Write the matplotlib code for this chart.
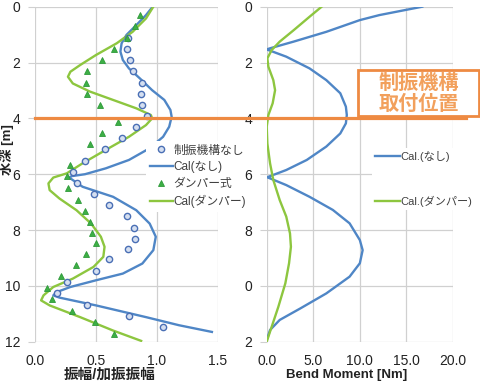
import matplotlib
matplotlib.use("Agg")
import matplotlib.pyplot as plt
from matplotlib.patches import Rectangle

plt.rcParams['font.family'] = ['Liberation Sans', 'Noto Sans CJK JP', 'DejaVu Sans']

# ---------------- data ----------------
# measured: no damper (circles)
meas_none_x = [0.76, 0.75, 0.78, 0.80, 0.88, 0.87, 0.88, 0.92, 0.83, 0.71, 0.57, 0.41, 0.31,
               0.345, 0.48, 0.61, 0.75, 0.81, 0.82, 0.76, 0.61, 0.50, 0.26, 0.18, 0.43, 0.77, 1.05]
meas_none_y = [1.11, 1.52, 1.91, 2.30, 2.72, 3.14, 3.52, 3.92, 4.32, 4.72, 5.11, 5.52, 5.91,
               6.31, 6.72, 7.10, 7.51, 7.91, 8.31, 8.67, 9.05, 9.47, 9.87, 10.27, 10.68, 11.08, 11.49]
# measured: damper (triangles)
meas_damp_x = [0.86, 0.82, 0.75, 0.65, 0.55, 0.43, 0.42, 0.43, 0.53, 0.68, 0.55, 0.45, 0.29,
               0.26, 0.27, 0.35, 0.41, 0.45, 0.47, 0.50, 0.42, 0.34, 0.21, 0.10, 0.14, 0.30, 0.49, 0.65]
meas_damp_y = [0.30, 0.69, 1.11, 1.52, 1.91, 2.30, 2.72, 3.14, 3.52, 4.12, 4.51, 4.92, 5.67,
               6.07, 6.51, 6.91, 7.31, 7.71, 8.10, 8.47, 8.85, 9.26, 9.66, 10.07, 10.47, 10.90, 11.29, 11.71]
# calculated amplitude: no damper
cal_none_x = [0.965, 0.91, 0.83, 0.75, 0.71, 0.70, 0.72, 0.77, 0.86, 0.96, 1.06, 1.11, 1.12, 1.10,
              1.05, 0.94, 0.77, 0.58, 0.41, 0.30, 0.28, 0.39, 0.64, 0.83, 0.94, 0.99, 0.97, 0.88,
              0.72, 0.50, 0.29, 0.18, 0.15, 0.20, 0.50, 0.91, 1.18, 1.45]
cal_none_y = [0.00, 0.30, 0.66, 1.01, 1.31, 1.61, 1.91, 2.21, 2.57, 2.99, 3.34, 3.70, 3.94, 4.30,
              4.66, 5.07, 5.49, 5.79, 6.00, 6.07, 6.12, 6.45, 6.81, 7.29, 7.77, 8.24, 8.72, 9.20,
              9.56, 9.80, 10.04, 10.22, 10.34, 10.42, 10.70, 11.12, 11.41, 11.65]
# calculated amplitude: damper
cal_damp_x = [0.97, 0.91, 0.80, 0.67, 0.50, 0.37, 0.29, 0.27, 0.31, 0.45, 0.64, 0.83, 0.95, 0.96,
              0.91, 0.77, 0.58, 0.39, 0.26, 0.15, 0.11, 0.12, 0.20, 0.34, 0.46, 0.54, 0.57, 0.56,
              0.48, 0.31, 0.15, 0.07, 0.05, 0.12, 0.37, 0.64, 0.87]
cal_damp_y = [0.00, 0.42, 0.90, 1.31, 1.73, 2.09, 2.33, 2.51, 2.75, 3.04, 3.34, 3.64, 3.88, 4.00,
              4.24, 4.66, 5.13, 5.61, 5.97, 6.12, 6.33, 6.57, 6.87, 7.29, 7.77, 8.24, 8.60, 8.96,
              9.32, 9.74, 10.04, 10.34, 10.52, 10.70, 11.12, 11.60, 11.97]
# bending moment
bm_none_x = [16.7, 12.1, 10.0, 6.4, 2.9, 0.36, 0.0, 2.1, 4.6, 6.4, 7.9, 8.5, 8.6, 8.5, 7.9, 6.4,
             4.3, 2.1, 0.2, 0.07, 2.1, 4.6, 7.1, 8.9, 10.0, 10.3, 10.0, 8.9, 6.4, 3.6, 1.4, 0.36, 0.0]
bm_none_y = [0.00, 0.30, 0.48, 0.90, 1.25, 1.49, 1.53, 1.79, 2.21, 2.63, 3.10, 3.58, 3.88, 4.18,
             4.54, 5.01, 5.49, 5.85, 6.09, 6.11, 6.39, 6.81, 7.28, 7.76, 8.36, 8.72, 9.19, 9.67,
             10.27, 10.81, 11.22, 11.58, 11.94]
bm_damp_x = [5.9, 4.6, 2.9, 1.4, 0.54, 0.07, 0.18, 0.71, 0.9, 0.64, 0.18, 0.0, 0.07, 0.36, 0.71,
             1.4, 2.1, 2.5, 2.6, 2.4, 2.0, 1.25, 0.54, 0.0]
bm_damp_y = [0.00, 0.36, 0.84, 1.25, 1.55, 1.85, 2.15, 2.63, 2.99, 3.46, 3.88, 4.30, 4.90, 5.61,
             6.21, 6.93, 7.52, 8.12, 8.60, 9.19, 9.91, 10.75, 11.46, 12.00]

depth_ticks = [0, 2, 4, 6, 8, 10, 12]
left_ylabels = ['0', '2', '4', '6', '8', '10', '12']
right_ylabels = ['0', '2', '4', '6', '8', '0', '2']
amp_ticks = [0.0, 0.5, 1.0, 1.5]
bm_ticks = [0.0, 5.0, 10.0, 15.0, 20.0]
damper_depth = 4.0

# ---------------- style ----------------
W, H = 481, 387
BLUE = '#4F86C6'
GREEN = '#8DC63F'
TRI = '#3DAF45'
ORANGE = '#EE8A42'
ORANGE_T = '#F2A05C'
GRID = '#D0D0D0'

fig = plt.figure(figsize=(W / 100, H / 100), dpi=100)

def fx(px):
    return px / W

def fy(py):
    return 1 - py / H

top, bot = 6.7, 341.7
ax1 = fig.add_axes([fx(35), fy(bot), (218 - 35) / W, (bot - top) / H])
ax2 = fig.add_axes([fx(266.7), fy(bot), (453 - 266.7) / W, (bot - top) / H])

for ax in (ax1, ax2):
    for s in ax.spines.values():
        s.set_visible(False)
    ax.set_ylim(12, 0)
    ax.set_yticks(depth_ticks)
    ax.grid(True, color=GRID, lw=0.9)
    ax.set_axisbelow(True)
    ax.tick_params(axis='y', length=5, color=GRID, pad=5.5, labelsize=10, labelcolor='#222222')
    ax.tick_params(axis='x', length=0, pad=9, labelsize=10, labelcolor='#222222')

ax1.set_xlim(0, 1.5)
ax1.set_xticks(amp_ticks)
ax1.set_xticklabels([f'{v:.1f}' for v in amp_ticks])
ax1.set_yticklabels(left_ylabels)

ax2.set_xlim(0, 20)
ax2.set_xticks(bm_ticks)
ax2.set_xticklabels([f'{v:.1f}' for v in bm_ticks])
ax2.set_yticklabels(right_ylabels)

# left chart
ax1.plot(meas_none_x, meas_none_y, 'o', ms=4.5, mfc='#D5DFF0', mec='#4A6FB5', mew=1.0,
         label='制振機構なし', zorder=4)
ax1.plot(cal_none_x, cal_none_y, '-', color=BLUE, lw=1.7, label='Cal(なし)', zorder=3)
ax1.plot(meas_damp_x, meas_damp_y, '^', ms=5, mfc=TRI, mec='#2E9A3A', mew=0.6,
         label='ダンパー式', zorder=4)
ax1.plot(cal_damp_x, cal_damp_y, '-', color=GREEN, lw=1.7, label='Cal(ダンパー)', zorder=3)

leg1 = ax1.legend(loc='upper left', bbox_to_anchor=(fx(146), fy(141)), bbox_transform=fig.transFigure,
                  fontsize=8.5, frameon=True, facecolor='white', edgecolor='none', framealpha=1,
                  fancybox=False, borderpad=0.3, borderaxespad=0, labelspacing=0.4,
                  handlelength=1.95, handletextpad=0.1, labelcolor='#404040')

# right chart
ax2.plot(bm_none_x, bm_none_y, '-', color=BLUE, lw=1.7, label='Cal.(なし)')
ax2.plot(bm_damp_x, bm_damp_y, '-', color=GREEN, lw=1.7, label='Cal.(ダンパー)')
leg2 = ax2.legend(loc='upper left', bbox_to_anchor=(fx(372), fy(148)), bbox_transform=fig.transFigure,
                  fontsize=8, frameon=True, facecolor='white', edgecolor='none', framealpha=1,
                  fancybox=False, borderpad=0.3, borderaxespad=0, labelspacing=3.0,
                  handlelength=2.2, handletextpad=0.05, labelcolor='#404040')

# damper position line (spans both charts)
x0 = (35 - 266.7) / (453 - 266.7)
x1 = (466 - 266.7) / (453 - 266.7)
ax2.axhline(damper_depth, xmin=x0, xmax=x1, color=ORANGE, lw=2.3, clip_on=False, zorder=6)

# annotation box
rect = Rectangle((fx(358), fy(116)), (479 - 358) / W, (116 - 70) / H, transform=fig.transFigure,
                 facecolor='white', edgecolor=ORANGE, lw=2.0, zorder=5)
fig.add_artist(rect)
fig.text(fx(419), fy(82), '制振機構', ha='center', va='center', fontsize=14.5,
         fontweight='bold', color=ORANGE_T, family=['Noto Sans CJK JP'], zorder=6)
fig.text(fx(419), fy(103), '取付位置', ha='center', va='center', fontsize=14.5,
         fontweight='bold', color=ORANGE_T, family=['Noto Sans CJK JP'], zorder=6)

# axis labels
fig.text(fx(110), fy(375), '振幅/加振振幅', ha='center', va='center', fontsize=10.5,
         fontweight='bold', color='#222222')
fig.text(fx(347), fy(375), 'Bend Moment [Nm]', ha='center', va='center', fontsize=9.5,
         fontweight='bold', color='#222222')
fig.text(fx(7), fy(150), '水深 [m]', ha='center', va='center', rotation=90, fontsize=9.5,
         fontweight='bold', color='#222222')

fig.savefig('out.png', dpi=100)
